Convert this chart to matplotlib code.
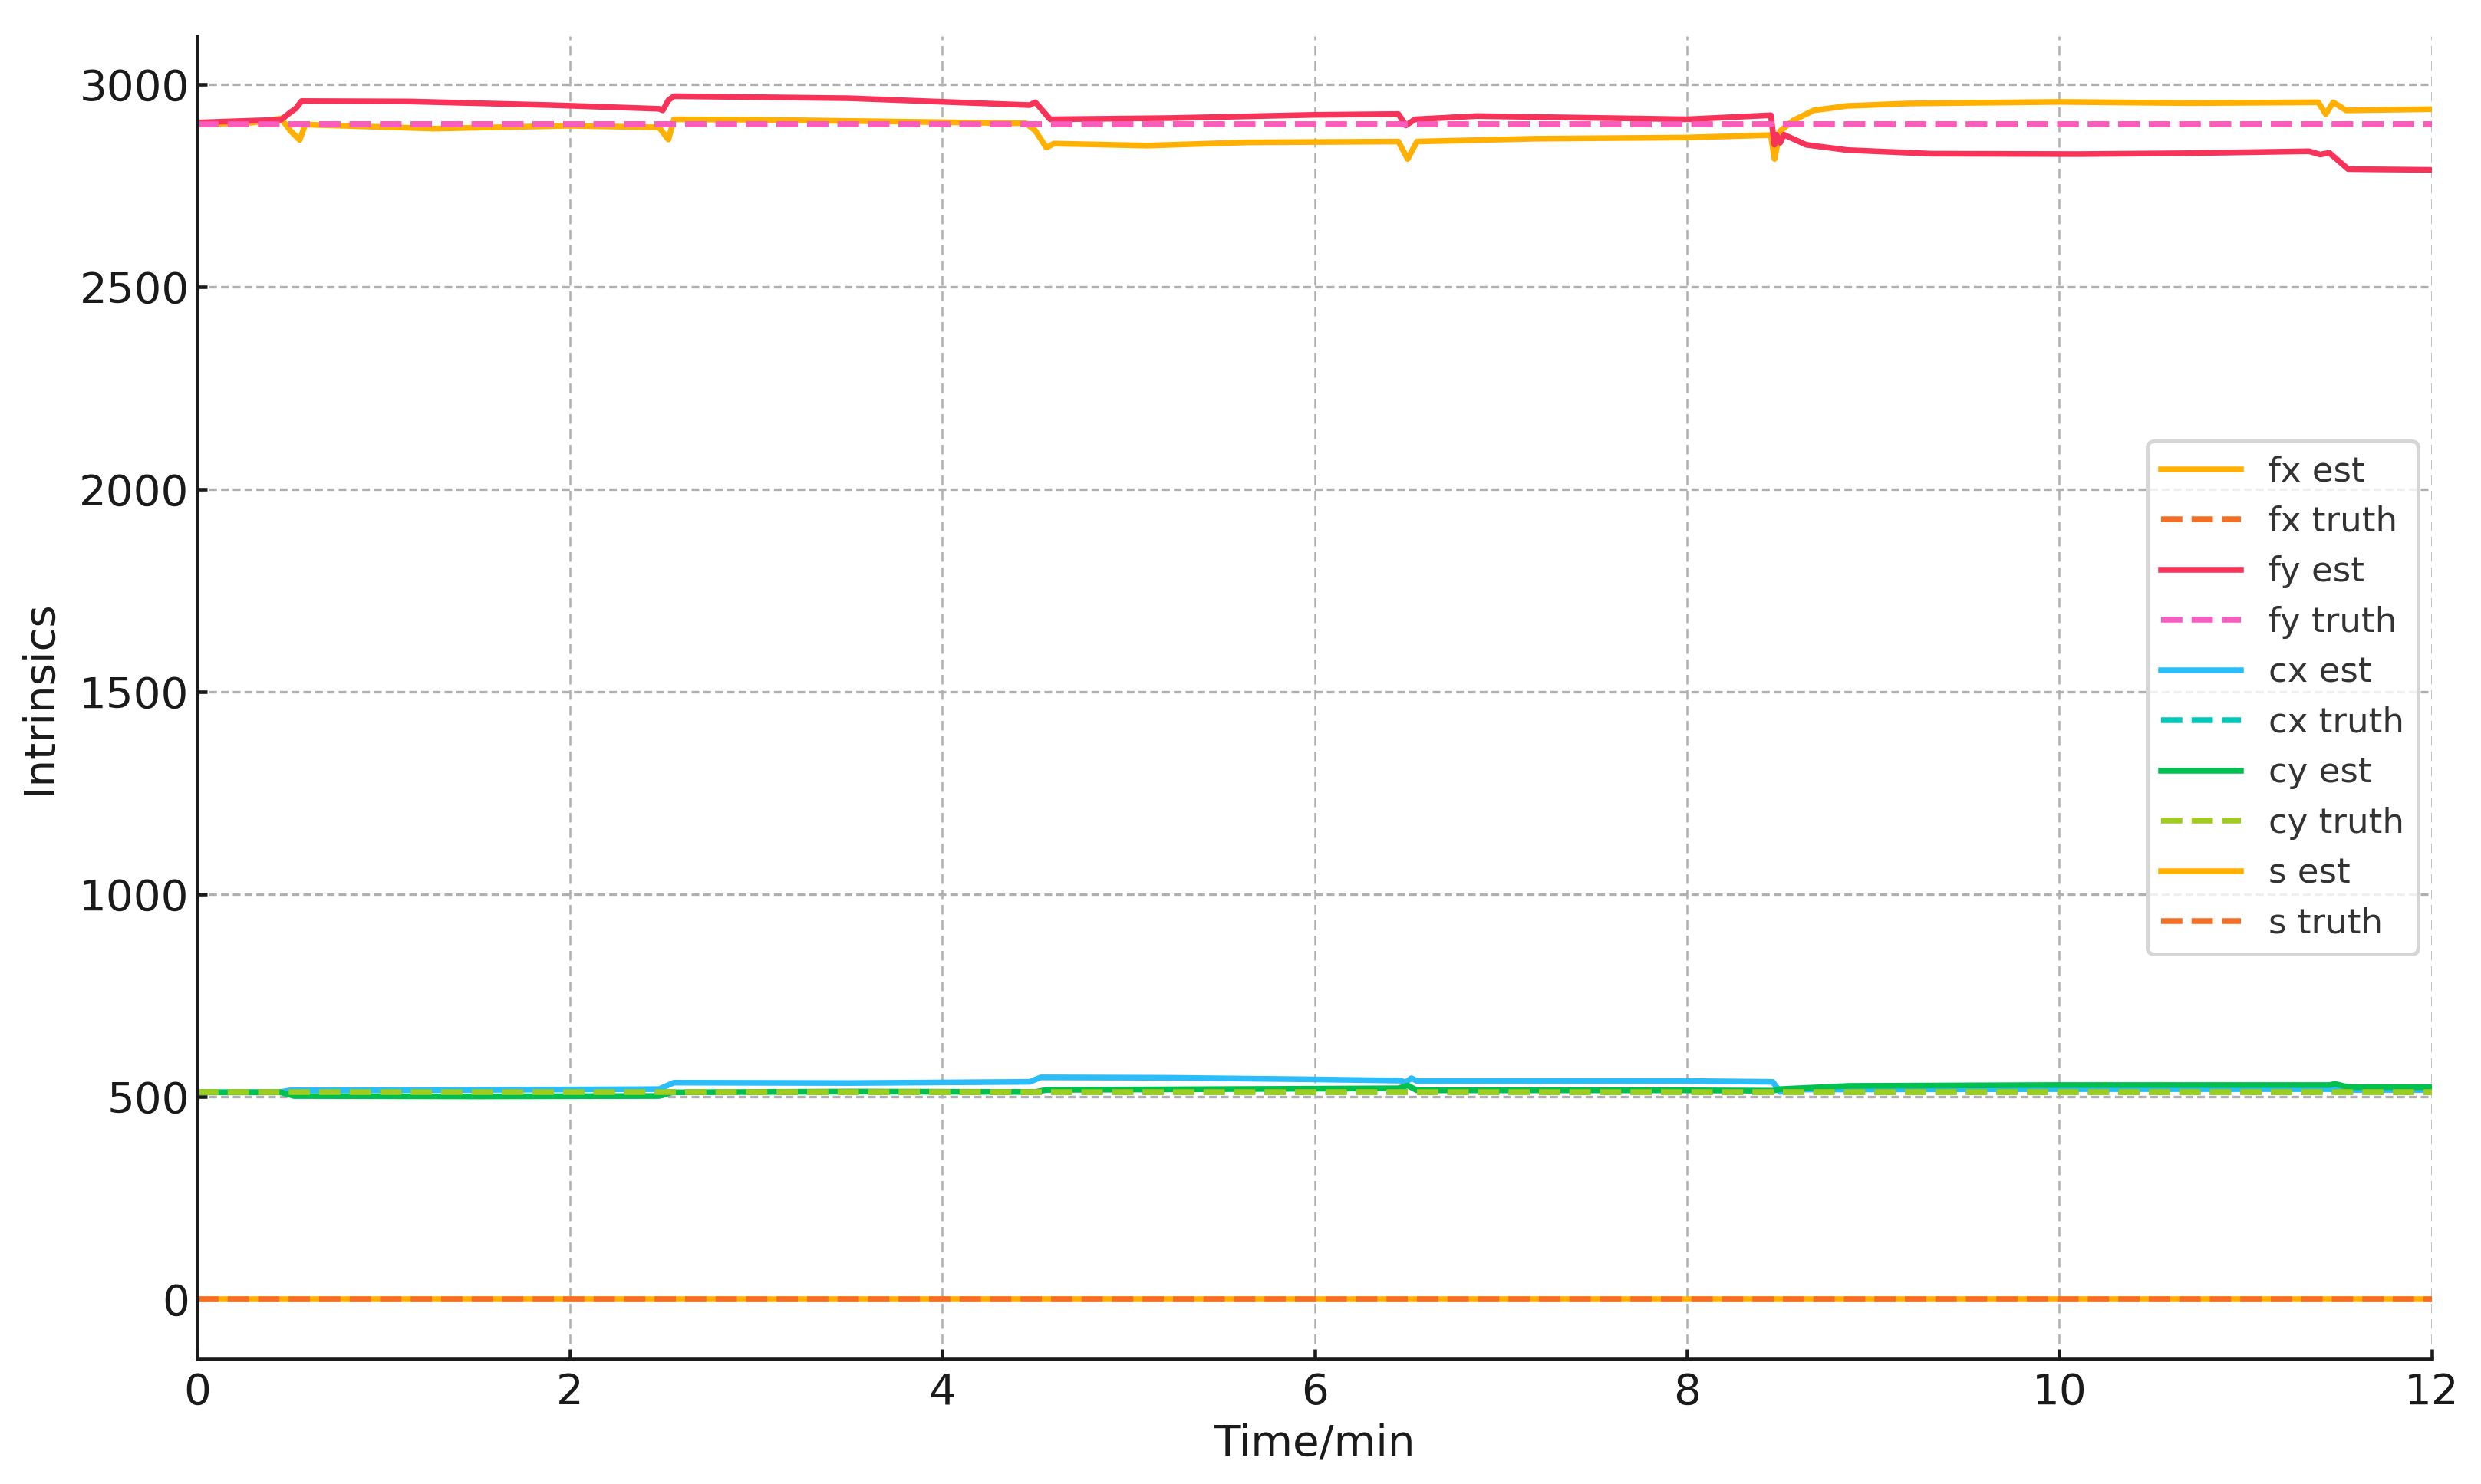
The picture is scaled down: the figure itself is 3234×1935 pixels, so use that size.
#intrinsics estimate vs ground truth over time
import matplotlib.pyplot as plt

# time stamps (min) and values for the estimated curves
fx_t = [0, 0.3, 0.45, 0.5, 0.55, 0.58, 1.27, 2.0, 2.48, 2.53, 2.56, 3.0, 4.45, 4.5, 4.56, 4.6,
        5.1, 5.64, 6.45, 6.5, 6.55, 7.18, 8.0, 8.45, 8.47, 8.5, 8.57, 8.68, 8.86, 9.19, 10.0,
        10.7, 11.39, 11.43, 11.47, 11.54, 12.0]
fx_est = [2900, 2905, 2915, 2885, 2862, 2900, 2890, 2897, 2893, 2863, 2913, 2912, 2903, 2885, 2843, 2853,
          2848, 2856, 2858, 2815, 2858, 2865, 2868, 2874, 2815, 2884, 2910, 2935, 2946, 2952, 2956,
          2953, 2955, 2926, 2955, 2935, 2938]

fy_t = [0, 0.45, 0.5, 0.53, 0.56, 1.14, 1.9, 2.48, 2.5, 2.53, 2.56, 3.5, 4.07, 4.47, 4.5, 4.52,
        4.58, 5.22, 6.0, 6.45, 6.49, 6.54, 6.87, 8.0, 8.45, 8.47, 8.48, 8.5, 8.52, 8.64, 8.86,
        9.31, 10.1, 10.65, 11.34, 11.4, 11.45, 11.55, 12.0]
fy_est = [2905, 2912, 2930, 2940, 2958, 2957, 2948, 2939, 2935, 2960, 2970, 2965, 2955, 2948, 2955, 2945,
          2913, 2916, 2924, 2926, 2898, 2913, 2921, 2913, 2923, 2850, 2875, 2855, 2875, 2850, 2837,
          2828, 2827, 2829, 2834, 2826, 2830, 2790, 2788]

cx_t = [0, 0.45, 0.5, 1.5, 2.48, 2.56, 3.5, 4.47, 4.53, 5.22, 6.0, 6.46, 6.49, 6.52, 6.55, 8.0,
        8.46, 8.5, 8.6, 10.0, 11.45, 11.5, 12.0]
cx_est = [510, 511, 515, 516, 518, 534, 533, 536, 547, 546, 542, 539, 535, 545, 538, 538,
          536, 511, 517, 518, 518, 516, 516]

cy_t = [0, 0.45, 0.52, 1.5, 2.48, 2.55, 3.5, 4.5, 4.56, 5.5, 6.45, 6.5, 6.55, 8.0, 8.46, 8.5,
        8.87, 9.96, 11.45, 11.48, 11.55, 12.0]
cy_est = [510, 510, 501, 500, 501, 510, 512, 511, 516, 518, 520, 527, 515, 515, 514, 518,
          526, 528, 528, 531, 523, 523]

s_t = [0, 12]
s_est = [0, 0]

# ground truth values
fx_truth = 2900
fy_truth = 2900
cx_truth = 510
cy_truth = 510
s_truth = 0

def main():
    plt.rcParams['font.family'] = 'DejaVu Sans'
    fig = plt.figure(figsize=(10.78, 6.45), dpi=300)
    ax = fig.add_axes([0.0795, 0.0842, 0.9007, 0.8915])

    lw = 1.8
    ax.plot(fx_t, fx_est, color='#FFB000', lw=lw, label='fx est')
    ax.plot([0, 12], [fx_truth, fx_truth], '--', color='#F46E25', lw=lw, label='fx truth')
    ax.plot(fy_t, fy_est, color='#F7335A', lw=lw, label='fy est')
    ax.plot([0, 12], [fy_truth, fy_truth], '--', color='#F75DC0', lw=lw, label='fy truth')
    ax.plot(cx_t, cx_est, color='#2BBDFA', lw=lw, label='cx est')
    ax.plot([0, 12], [cx_truth, cx_truth], '--', color='#00C8B8', lw=lw, label='cx truth')
    ax.plot(cy_t, cy_est, color='#00C050', lw=lw, label='cy est')
    ax.plot([0, 12], [cy_truth, cy_truth], '--', color='#A0CC20', lw=lw, label='cy truth')
    ax.plot(s_t, s_est, color='#FFB000', lw=lw, label='s est')
    ax.plot([0, 12], [s_truth, s_truth], '--', color='#F46E25', lw=lw, label='s truth')

    ax.set_xlim(0, 12)
    ax.set_xticks([0, 2, 4, 6, 8, 10, 12])
    ax.set_yticks([0, 500, 1000, 1500, 2000, 2500, 3000])

    # grids: horizontal short dashes, vertical thinner
    ax.yaxis.grid(True, color='#b0b0b0', lw=0.8, ls=(0, (3.0, 1.6)))
    ax.xaxis.grid(True, color='#b0b0b0', lw=0.6, ls=(0, (5.0, 3.0)))
    ax.set_axisbelow(True)

    for side in ['top', 'right']:
        ax.spines[side].set_visible(False)
    for side in ['left', 'bottom']:
        ax.spines[side].set_linewidth(1.1)
        ax.spines[side].set_color('#1a1a1a')

    ax.tick_params(direction='in', length=3.2, width=1.1, color='#1a1a1a',
                   labelsize=13.5, labelcolor='#1a1a1a')
    ax.tick_params(axis='y', pad=2.5)
    ax.tick_params(axis='x', pad=4)

    ax.set_xlabel('Time/min', fontsize=13.5, color='#1a1a1a', labelpad=3)
    ax.set_ylabel('Intrinsics', fontsize=13.5, color='#1a1a1a', labelpad=6)

    leg = ax.legend(loc='center right', fontsize=10.8, handlelength=2.3,
                    frameon=True, fancybox=True, borderaxespad=0.4)
    leg.get_frame().set_edgecolor('#cccccc')
    leg.get_frame().set_linewidth(1.2)
    for txt in leg.get_texts():
        txt.set_color('#333333')

    plt.savefig('out.png', dpi=300)

main()
